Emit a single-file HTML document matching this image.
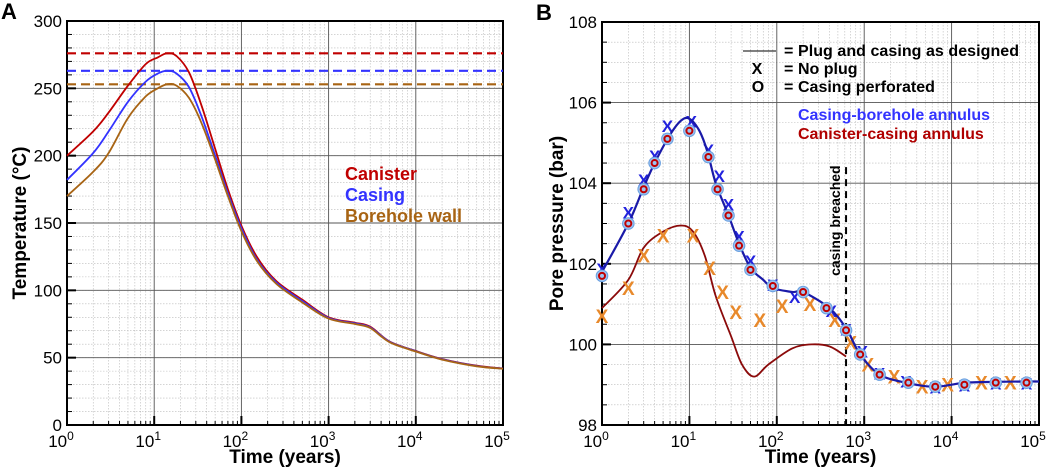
<!DOCTYPE html>
<html><head><meta charset="utf-8"><style>
body{margin:0;background:#fff;}
svg{display:block;font-family:"Liberation Sans",sans-serif;}
</style></head><body>
<svg id="svg" width="1059" height="470" viewBox="0 0 1059 470"></svg>
<script>
// ---- Panel A data ----
const tA = [1,2,3,5,8,11,14,18,25,35,50,70,100,150,250,500,1000,2000,3000,5000,10000,20000,50000,100000];
const canisterT = [200,218,232,252,268,273,276,274,262,237,205,175,148,125,107,93,80,76,73,62,55,49,44,42];
const casingT = [182,202,218,240,255,261,263,261,251,229,200,172,146,123,106,92,79.5,75.5,72.5,61.8,54.8,48.8,43.8,41.9];
const boreholeT = [170,188,202,228,244,250,253,252,243,224,197,170,144,122,105,91,79,75,72,61.5,54.6,48.6,43.6,41.8];
const peakT = [276,263,253];
const yTicksA = [0,50,100,150,200,250,300];
// ---- Panel B data ----
const tBlue = [1,2,3,4,6,8,10,13,16,20,28,37,50,70,90,150,200,400,620,900,1500,3000,6000,10000,14000,30000,70000,100000];
const pBlue = [101.8,103.0,103.9,104.5,105.2,105.55,105.6,105.3,104.8,104.0,103.2,102.5,101.9,101.6,101.4,101.3,101.3,100.9,100.4,99.75,99.25,99.05,98.95,99.0,99.05,99.07,99.08,99.08];
const tRed = [1,2,3,5,8,11,15,20,30,40,55,80,150,250,400,620];
const pRed = [100.9,101.6,102.4,102.8,102.95,102.8,102.2,101.2,100.2,99.5,99.2,99.5,99.9,100.0,99.95,99.7];
const tO = [1,2,3,4,5.6,10,16.5,21,28,37,50,90,200,370,620,900,1500,3200,6500,14000,32000,72000];
const pO = [101.7,103.0,103.85,104.5,105.1,105.3,104.65,103.85,103.2,102.45,101.85,101.45,101.3,100.9,100.35,99.75,99.25,99.05,98.95,99.0,99.05,99.05];
const tXb = [1,2,3,4,5.6,10.5,16.5,22,28,37,50,90,160,420,620,950,1500,3000,6500,14000,32000,72000];
const pXb = [101.9,103.3,104.1,104.7,105.45,105.55,104.85,104.2,103.5,102.7,102.1,101.5,101.2,100.85,100.4,99.85,99.3,99.1,98.95,99.0,99.05,99.05];
const tXo = [1,2,3,5,11,17,24,34,64,115,240,460,700,1100,2200,4600,9000,22000,47000];
const pXo = [100.7,101.4,102.2,102.7,102.7,101.9,101.3,100.8,100.6,100.95,101.0,100.6,100.05,99.5,99.2,98.95,99.0,99.05,99.05];
const yTicksB = [98,100,102,104,106,108];
const breachT = 620;

const NS='http://www.w3.org/2000/svg';
const svg=document.getElementById('svg');
function el(tag,attrs,parent,text){const e=document.createElementNS(NS,tag);for(const k in attrs)e.setAttribute(k,attrs[k]);if(text!==undefined)e.textContent=text;(parent||svg).appendChild(e);return e;}

function makeAxes(px,py,pw,ph,ymin,ymax){
  return {x:t=>px+Math.log10(t)/5*pw, y:v=>py+ph-(v-ymin)/(ymax-ymin)*ph};
}
function drawFrame(g,ax,px,py,pw,ph,ymin,ymax,yminor,yTicks,ylabel,letter,lx){
  for(let d=0;d<5;d++)for(let m=2;m<=9;m++){const x=ax.x(m*Math.pow(10,d));
    const l=el('line',{x1:x,x2:x,y1:py,y2:py+ph,stroke:'#bbb','stroke-width':0.6,'stroke-dasharray':'1.5,1.5'},g);
    
    el('line',{x1:x,x2:x,y1:py+ph,y2:py+ph-4,stroke:'#000','stroke-width':1},g);}
  for(let v=ymin;v<=ymax+1e-9;v+=yminor){const y=ax.y(v);
    el('line',{x1:px,x2:px+pw,y1:y,y2:y,stroke:'#bbb','stroke-width':0.6,'stroke-dasharray':'1.5,1.5'},g);
    el('line',{x1:px,x2:px+5,y1:y,y2:y,stroke:'#000','stroke-width':1},g);}
  for(let d=1;d<5;d++){const x=ax.x(Math.pow(10,d));
    const l=el('line',{x1:x,x2:x,y1:py,y2:py+ph,stroke:'#555','stroke-width':0.9},g);
    
    el('line',{x1:x,x2:x,y1:py+ph,y2:py+ph-9,stroke:'#000','stroke-width':2},g);}
  yTicks.forEach(v=>{const y=ax.y(v);
    if(v>ymin&&v<ymax){const l=el('line',{x1:px,x2:px+pw,y1:y,y2:y,stroke:'#555','stroke-width':0.9},g);
      }
    el('line',{x1:px,x2:px+9,y1:y,y2:y,stroke:'#000','stroke-width':2},g);
    const t=el('text',{x:px-5,y:y+6,'text-anchor':'end','font-size':17},g,String(v));
    
  });
  for(let d=0;d<=5;d++){const x=ax.x(Math.pow(10,d));
    const t=el('text',{x:x-6,y:py+ph+22,'text-anchor':'middle','font-size':17},g);
    
    el('tspan',{},t,'10');el('tspan',{dy:-7,'font-size':12},t,String(d));}
  const f=el('rect',{x:px,y:py,width:pw,height:ph,fill:'none',stroke:'#000','stroke-width':2},g);
  
  const xt=el('text',{x:px+pw/2,y:463,'text-anchor':'middle','font-size':19,'font-weight':'bold'},g,'Time (years)');
  
  const yt=el('text',{x:0,y:0,'text-anchor':'middle','font-size':19,'font-weight':'bold',transform:`translate(${lx},${py+ph/2}) rotate(-90)`},g,ylabel);
  
  const pl=el('text',{x:px-66,y:py-2,'font-size':22,'font-weight':'bold'},g,letter);
  
}
function path(ax,ts,vs){
  const P=ts.map((t,i)=>[ax.x(t),ax.y(vs[i])]);
  let d='M'+P[0][0].toFixed(1)+','+P[0][1].toFixed(1);
  for(let i=0;i<P.length-1;i++){
    const p0=P[Math.max(0,i-1)],p1=P[i],p2=P[i+1],p3=P[Math.min(P.length-1,i+2)];
    const c1=[p1[0]+(p2[0]-p0[0])/6,p1[1]+(p2[1]-p0[1])/6];
    const c2=[p2[0]-(p3[0]-p1[0])/6,p2[1]-(p3[1]-p1[1])/6];
    d+=' C'+c1.map(v=>v.toFixed(1))+' '+c2.map(v=>v.toFixed(1))+' '+p2.map(v=>v.toFixed(1));
  }
  return d;
}

// ---- Panel A ----
const gA=el('g',{});
const aPx=67,aPy=21,aPw=436,aPh=404;
const axA=makeAxes(aPx,aPy,aPw,aPh,0,300);
drawFrame(gA,axA,aPx,aPy,aPw,aPh,0,300,10,yTicksA,'Temperature (°C)','A',26);
const colsA=['#c00000','#3333ff','#a86414'];
const namesA=['canister','casing','borehole-wall'];
peakT.forEach((v,i)=>{
  const d=el('line',{x1:aPx,x2:aPx+aPw,y1:axA.y(v),y2:axA.y(v),stroke:colsA[i],'stroke-width':2.2,'stroke-dasharray':'9,5'},gA);
  
});
[canisterT,casingT,boreholeT].forEach((s,i)=>{
  const p=el('path',{d:path(axA,tA,s),fill:'none',stroke:colsA[i],'stroke-width':1.8,'stroke-linejoin':'round'},gA);
  
});
['Canister','Casing','Borehole wall'].forEach((n,i)=>{
  const t=el('text',{x:345,y:[180,201,222][i],'font-size':18,'font-weight':'bold',fill:colsA[i]},gA,n);
  
});

// ---- Panel B ----
const gB=el('g',{});
const bPx=602,bPy=22,bPw=437,bPh=403;
const axB=makeAxes(bPx,bPy,bPw,bPh,98,108);
drawFrame(gB,axB,bPx,bPy,bPw,bPh,98,108,0.5,yTicksB,'Pore pressure (bar)','B',563);
const bl=el('line',{x1:axB.x(breachT),x2:axB.x(breachT),y1:axB.y(104.4),y2:axB.y(98),stroke:'#000','stroke-width':2,'stroke-dasharray':'7,5'},gB);

const bt=el('text',{x:0,y:0,'font-size':14,'font-weight':'bold',transform:`translate(${axB.x(breachT)-6},${axB.y(101.7)}) rotate(-90)`},gB,'casing breached');

const pr=el('path',{d:path(axB,tRed,pRed),fill:'none',stroke:'#8b0a0a','stroke-width':1.8},gB);

tXo.forEach((t,i)=>{const x=el('text',{x:axB.x(t),y:axB.y(pXo[i])+7,'text-anchor':'middle','font-size':19,'font-weight':'bold',fill:'#e8892b'},gB,'X');
  });
tXb.forEach((t,i)=>{const x=el('text',{x:axB.x(t),y:axB.y(pXb[i])+7,'text-anchor':'middle','font-size':17,'font-weight':'bold',fill:'#2222dd'},gB,'X');
  });
const pb=el('path',{d:path(axB,tBlue,pBlue),fill:'none',stroke:'#1a1aa8','stroke-width':2.2},gB);

tO.forEach((t,i)=>{const cx=axB.x(t),cy=axB.y(pO[i]);
  const c=el('circle',{cx:cx,cy:cy,r:5.8,fill:'#9cc3f0',stroke:'#6aa0e0','stroke-width':1},gB);
  
  el('circle',{cx:cx,cy:cy,r:3,fill:'none',stroke:'#c00000','stroke-width':2},gB);});
// legend
const lg=el('g',{},gB);
el('line',{x1:743,x2:776,y1:51,y2:51,stroke:'#000','stroke-width':1},lg);
[['=','Plug and casing as designed',56],['=','No plug',74],['=','Casing perforated',92]].forEach((r,i)=>{
  el('text',{x:784,y:r[2],'font-size':16,'font-weight':'bold'},lg,r[0]);
  el('text',{x:798,y:r[2],'font-size':16,'font-weight':'bold','textLength':i==0?221:undefined},lg,r[1]);});
el('text',{x:757,y:74,'text-anchor':'middle','font-size':16,'font-weight':'bold'},lg,'X');
el('text',{x:758,y:92,'text-anchor':'middle','font-size':16,'font-weight':'bold'},lg,'O');
const l1=el('text',{x:798,y:120,'font-size':16,'font-weight':'bold',fill:'#3333ff'},gB,'Casing-borehole annulus');

const l2=el('text',{x:798,y:139,'font-size':16,'font-weight':'bold',fill:'#b00000'},gB,'Canister-casing annulus');

</script>
</body></html>
